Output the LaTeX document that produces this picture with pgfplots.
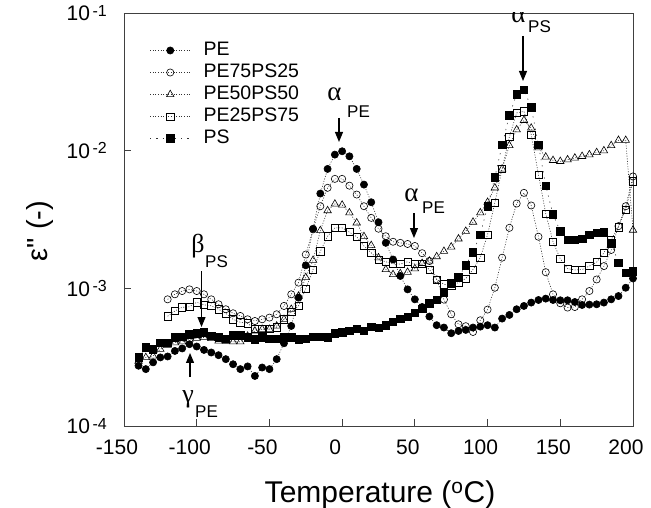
\documentclass[border=0pt]{standalone}
\usepackage{pgfplots}
\usepackage{pgfplotstable}
\pgfplotsset{compat=1.18}
\usepackage{fontspec}
\setmainfont{Liberation Sans}
\newfontfamily\grk{Liberation Serif}
\usetikzlibrary{arrows.meta}

\pgfplotstableread{
T PE PEa PEb PEc PS
-140 2.74e-4 nan 2.96e-4 nan 3.15e-4
-135 2.59e-4 nan 3.15e-4 nan 3.72e-4
-130 2.90e-4 nan 3.23e-4 nan 3.61e-4
-125 3.15e-4 nan 3.61e-4 nan 4.04e-4
-120 3.20e-4 8.32e-4 3.86e-4 6.27e-4 4.04e-4
-115 3.51e-4 9.05e-4 4.03e-4 6.85e-4 4.40e-4
-110 3.66e-4 9.56e-4 4.09e-4 7.28e-4 4.46e-4
-105 3.93e-4 9.83e-4 4.27e-4 7.34e-4 4.64e-4
-100 3.78e-4 9.56e-4 4.34e-4 7.92e-4 4.72e-4
-95 3.57e-4 9.05e-4 4.40e-4 7.59e-4 4.78e-4
-90 3.42e-4 8.32e-4 4.32e-4 7.47e-4 4.51e-4
-85 3.27e-4 7.66e-4 4.15e-4 7.05e-4 4.40e-4
-80 3.06e-4 7.05e-4 4.13e-4 6.59e-4 4.32e-4
-75 2.81e-4 6.59e-4 4.09e-4 5.96e-4 4.56e-4
-70 2.59e-4 6.30e-4 4.09e-4 5.67e-4 4.56e-4
-65 2.71e-4 5.96e-4 4.50e-4 5.57e-4 4.40e-4
-60 2.31e-4 5.79e-4 4.90e-4 5.05e-4 4.27e-4
-55 2.66e-4 5.96e-4 5.05e-4 5.05e-4 4.40e-4
-50 2.59e-4 6.13e-4 5.05e-4 5.05e-4 4.32e-4
-45 3.06e-4 6.48e-4 5.33e-4 5.22e-4 4.32e-4
-40 3.99e-4 7.45e-4 5.96e-4 5.96e-4 4.40e-4
-35 5.33e-4 9.05e-4 7.05e-4 6.73e-4 4.40e-4
-30 8.56e-4 1.10e-3 8.79e-4 7.45e-4 4.27e-4
-25 1.47e-3 1.76e-3 1.20e-3 9.95e-4 4.32e-4
-20 2.71e-3 2.68e-3 1.60e-3 1.37e-3 4.46e-4
-15 4.88e-3 3.95e-3 2.63e-3 1.86e-3 4.46e-4
-10 7.37e-3 5.37e-3 3.67e-3 2.39e-3 4.40e-4
-5 9.36e-3 6.24e-3 4.10e-3 2.75e-3 4.72e-4
0 9.90e-3 6.24e-3 4.03e-3 2.75e-3 4.78e-4
5 9.10e-3 5.57e-3 3.54e-3 2.56e-3 4.90e-4
10 7.37e-3 4.80e-3 2.99e-3 2.37e-3 5.10e-4
15 5.67e-3 3.95e-3 2.38e-3 2.03e-3 4.90e-4
20 4.22e-3 3.25e-3 2.05e-3 1.81e-3 5.27e-4
25 3.02e-3 2.71e-3 1.67e-3 1.62e-3 5.19e-4
30 2.14e-3 2.39e-3 1.37e-3 1.56e-3 5.40e-4
35 1.62e-3 2.18e-3 1.26e-3 1.51e-3 5.70e-4
40 1.23e-3 2.14e-3 1.28e-3 1.50e-3 6.03e-4
45 9.83e-4 2.10e-3 1.31e-3 1.56e-3 6.24e-4
50 8.32e-4 2.03e-3 1.39e-3 1.50e-3 6.67e-4
55 7.32e-4 1.80e-3 1.52e-3 1.50e-3 7.13e-4
60 6.24e-4 1.58e-3 1.58e-3 1.37e-3 7.78e-4
65 5.40e-4 1.16e-3 1.70e-3 1.16e-3 8.23e-4
70 5.19e-4 8.28e-4 1.86e-3 1.07e-3 9.31e-4
75 4.72e-4 6.48e-4 2.00e-3 1.05e-3 1.09e-3
80 4.90e-4 5.48e-4 2.29e-3 1.10e-3 1.20e-3
85 4.99e-4 5.31e-4 2.60e-3 1.18e-3 1.47e-3
90 5.19e-4 4.82e-4 3.03e-3 1.37e-3 1.83e-3
95 5.27e-4 5.86e-4 3.54e-3 1.67e-3 2.46e-3
100 5.40e-4 7.01e-4 4.22e-3 2.46e-3 3.95e-3
105 5.19e-4 1.01e-3 5.37e-3 4.18e-3 6.41e-3
110 6.03e-4 1.67e-3 7.37e-3 7.37e-3 1.10e-2
115 6.41e-4 2.75e-3 1.09e-2 1.26e-2 1.81e-2
120 7.05e-4 4.13e-3 1.42e-2 1.88e-2 2.57e-2
125 7.45e-4 4.94e-3 1.66e-2 1.93e-2 2.77e-2
130 7.88e-4 4.00e-3 1.46e-2 1.31e-2 2.07e-2
135 8.23e-4 2.37e-3 1.05e-2 6.70e-3 1.10e-2
140 8.42e-4 1.31e-3 9.00e-3 3.49e-3 5.57e-3
145 8.23e-4 9.05e-4 8.50e-3 2.18e-3 3.44e-3
150 8.19e-4 7.79e-4 8.36e-3 1.64e-3 2.60e-3
155 8.19e-4 7.25e-4 8.60e-3 1.39e-3 2.26e-3
160 7.96e-4 7.32e-4 8.85e-3 1.36e-3 2.26e-3
165 7.57e-4 8.32e-4 9.10e-3 1.37e-3 2.29e-3
170 7.62e-4 9.56e-4 9.35e-3 1.45e-3 2.46e-3
175 7.66e-4 1.16e-3 9.70e-3 1.55e-3 2.53e-3
180 7.88e-4 1.45e-3 1.00e-2 1.81e-3 2.55e-3
185 8.32e-4 1.90e-3 1.09e-2 2.26e-3 2.12e-3
190 8.79e-4 2.83e-3 1.19e-2 2.78e-3 1.54e-3
195 1.01e-3 3.95e-3 1.19e-2 3.74e-3 1.30e-3
200 1.18e-3 6.50e-3 2.65e-3 6.00e-3 1.33e-3
}\data

\newcommand{\sfs}[1]{\fontsize{#1}{#1}\selectfont}
\newcommand{\ytl}[1]{10\hspace{2.5bp}\raisebox{4.5bp}{\sfs{16bp}-#1}}

\begin{document}
\begin{tikzpicture}
\begin{axis}[
  width=509bp, height=413bp, scale only axis,
  xmin=-150, xmax=200, ymin=1e-4, ymax=1e-1, ymode=log,
  xtick={-150,-100,-50,0,50,100,150,200},
  ytick={1e-4,1e-3,1e-2,1e-1},
  yticklabels={{\ytl{4}},{\ytl{3}},{\ytl{2}},{\ytl{1}}},
  yminorticks=false,
  tick align=inside, major tick length=7bp, tick pos=left,
  axis line style={black!75, line width=0.9bp},
  every tick/.style={black!75, line width=0.9bp},
  /pgf/number format/assume math mode=true,
  tick label style={font=\sfs{21bp}},
  xticklabel style={inner sep=0pt, yshift=-14bp, xshift=-7bp},
  yticklabel style={inner sep=0pt, xshift=-17bp},
  xlabel={Temperature (\textsuperscript{o}C)},
  xlabel style={at={(axis description cs:0.503,-0.184)}, anchor=base, font=\sfs{30bp}},
  ylabel={ε\textquotedbl\ (-)},
  ylabel style={at={(axis description cs:-0.150,0.472)}, anchor=base, rotate=0, font=\sfs{29bp}},
  legend style={draw=none, fill=none, at={(axis description cs:0.051,0.931)}, anchor=north west,
    inner sep=0pt, outer sep=0pt, row sep=4bp, column sep=13bp, font=\sfs{19.5bp},
    nodes={inner sep=0pt, text height=14bp, text depth=4bp}},
  legend cell align=left,
  legend image code/.code={\draw[mark repeat=2,mark phase=2,#1] plot coordinates {(0bp,0bp) (20bp,0bp) (40bp,0bp)};},
  every axis plot/.append style={line width=0.6bp, black!80, dash pattern=on 1bp off 1.6bp,
    mark options={solid, black, line width=0.6bp}},
]
\addplot[mark=*, mark size=3.6bp] table[x=T, y=PE] {\data};
\addlegendentry{PE}
\addplot[mark=o, mark size=3.6bp] table[x=T, y=PEa] {\data};
\addlegendentry{PE75PS25}
\addplot[mark=triangle, mark size=4.3bp] table[x=T, y=PEb] {\data};
\addlegendentry{PE50PS50}
\addplot[mark=square, mark size=3.6bp] table[x=T, y=PEc] {\data};
\addlegendentry{PE25PS75}
\addplot[mark=square*, mark size=3.7bp, dash pattern=on 1.2bp off 5bp] table[x=T, y=PS] {\data};
\addlegendentry{PS}

% annotations
\tikzset{ann/.style={-{Triangle[length=10bp,width=8bp]}, line width=1.1bp, black}}
% alpha PE (1)
\draw[ann] (axis description cs:0.4224,0.7458) -- (axis description cs:0.4224,0.6877);
\node[anchor=base west, inner sep=0pt, font=\grk\sfs{27bp}] at (axis description cs:0.3990,0.7893) {α};
\node[anchor=base west, inner sep=0pt, font=\sfs{17bp}] at (axis description cs:0.4381,0.7458) {PE};
% alpha PE (2)
\draw[ann] (axis description cs:0.5697,0.5157) -- (axis description cs:0.5697,0.4552);
\node[anchor=base west, inner sep=0pt, font=\grk\sfs{27bp}] at (axis description cs:0.5503,0.5424) {α};
\node[anchor=base west, inner sep=0pt, font=\sfs{17bp}] at (axis description cs:0.5855,0.5157) {PE};
% alpha PS
\draw[ann] (axis description cs:0.7839,0.9443) -- (axis description cs:0.7839,0.8354);
\node[anchor=base west, inner sep=0pt, font=\grk\sfs{27bp}] at (axis description cs:0.7605,0.9782) {α};
\node[anchor=base west, inner sep=0pt, font=\sfs{17bp}] at (axis description cs:0.7937,0.9516) {PS};
% beta PS
\draw[ann] (axis description cs:0.1523,0.3753) -- (axis description cs:0.1523,0.2397);
\node[anchor=base west, inner sep=0pt, font=\grk\sfs{26bp}] at (axis description cs:0.1320,0.4189) {β};
\node[anchor=base west, inner sep=0pt, font=\sfs{17bp}] at (axis description cs:0.1591,0.3850) {PS};
% gamma PE
\draw[ann] (axis description cs:0.1297,0.1186) -- (axis description cs:0.1297,0.1768);
\node[anchor=base west, inner sep=0pt, font=\grk\sfs{26bp}] at (axis description cs:0.1145,0.0580) {γ};
\node[anchor=base west, inner sep=0pt, font=\sfs{17bp}] at (axis description cs:0.1395,0.0194) {PE};
\end{axis}
\pgfresetboundingbox
\path (current axis.south west) ++(-124bp,-82bp) rectangle ++(651bp,508bp);
\end{tikzpicture}
\end{document}
